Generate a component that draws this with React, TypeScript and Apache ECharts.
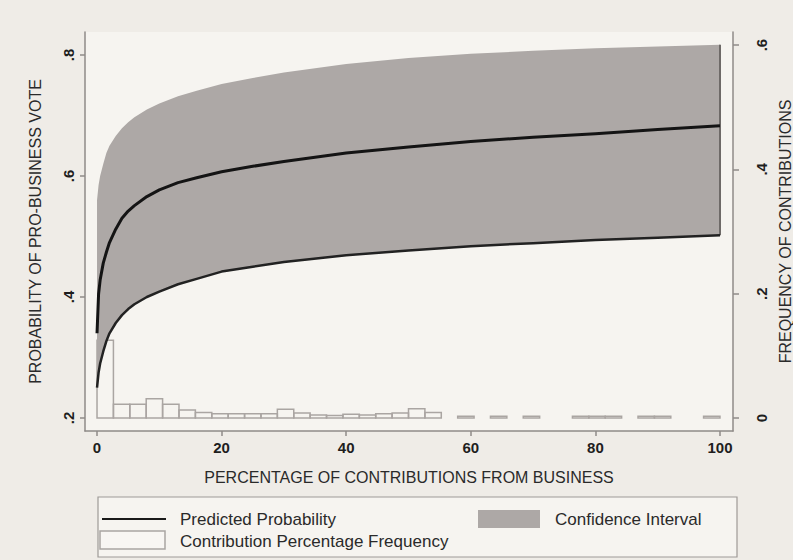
import React, { useEffect, useRef } from "react";
import * as echarts from "echarts";

// Curve x positions (percentage of contributions from business)
const xs = [0, 0.25, 0.5, 1, 1.5, 2, 3, 4, 5, 6, 8, 10, 13, 16, 20, 25, 30, 40, 50, 60, 70, 80, 90, 100];
// Predicted probability of a pro-business vote
const predicted = [0.34, 0.405, 0.428, 0.456, 0.474, 0.49, 0.512, 0.53, 0.542, 0.551, 0.566, 0.577, 0.589, 0.597, 0.607, 0.616, 0.624, 0.638, 0.648, 0.657, 0.664, 0.67, 0.677, 0.683];
// Confidence interval bounds
const lowerCI = [0.25, 0.275, 0.29, 0.31, 0.327, 0.34, 0.357, 0.37, 0.38, 0.388, 0.4, 0.409, 0.421, 0.43, 0.442, 0.45, 0.458, 0.469, 0.477, 0.484, 0.489, 0.494, 0.498, 0.502];
const upperCI = [0.56, 0.585, 0.6, 0.62, 0.638, 0.65, 0.666, 0.679, 0.689, 0.697, 0.71, 0.72, 0.732, 0.741, 0.752, 0.762, 0.771, 0.785, 0.795, 0.802, 0.807, 0.811, 0.814, 0.817];

// Histogram of contribution percentages (38 equal-width bins over 0-100)
const histBinWidth = 100 / 38;
const histFreq = [0.125, 0.022, 0.022, 0.031, 0.022, 0.013, 0.009, 0.007, 0.007, 0.007, 0.007, 0.014, 0.008, 0.005, 0.004, 0.006, 0.005, 0.007, 0.008, 0.015, 0.009, 0, 0.003, 0, 0.003, 0, 0.003, 0, 0, 0.003, 0.003, 0.003, 0, 0.003, 0.003, 0, 0, 0.003];

// Tick labels
const xTicks = [0, 20, 40, 60, 80, 100];
const yLeftTicks = [0.2, 0.4, 0.6, 0.8];
const yLeftLabels = [".2", ".4", ".6", ".8"];
const yRightTicks = [0, 0.2, 0.4, 0.6];
const yRightLabels = ["0", ".2", ".4", ".6"];

const xTitle = "PERCENTAGE OF CONTRIBUTIONS FROM BUSINESS";
const yLeftTitle = "PROBABILITY OF PRO-BUSINESS VOTE";
const yRightTitle = "FREQUENCY OF CONTRIBUTIONS";
const legendNames = ["Predicted Probability", "Confidence Interval", "Contribution Percentage Frequency"];

const BAND = "#ada8a6";
const AXIS = "#8f8b88";
const FONT = "'Liberation Sans', Arial, sans-serif";

export default function App() {
  const ref = useRef<HTMLDivElement>(null);

  useEffect(() => {
    if (!ref.current) return;
    const chart = echarts.init(ref.current, undefined, { renderer: "svg" });

    const histData = histFreq.map((f, i) => [i * histBinWidth, (i + 1) * histBinWidth, f]);
    const bandData = xs.map((x, i) => [x, lowerCI[i], upperCI[i]]);

    const option: any = {
      animation: false,
      backgroundColor: "#efece7",
      textStyle: { fontFamily: FONT },
      grid: {
        left: 85,
        right: 60,
        top: 32,
        bottom: 129,
        containLabel: false,
        outerBoundsMode: "none",
        show: true,
        backgroundColor: "#f6f4f0",
        borderWidth: 0,
      },
      xAxis: {
        type: "value",
        min: -1.93,
        max: 102.09,
        name: xTitle,
        nameLocation: "middle",
        nameGap: 38,
        nameTextStyle: { fontSize: 16, color: "#2a2a2a", fontFamily: FONT },
        axisLine: { show: true, onZero: false, lineStyle: { color: AXIS, width: 1.5 } },
        axisTick: { show: true, length: 5, customValues: xTicks, lineStyle: { color: AXIS, width: 1.5 } },
        axisLabel: {
          customValues: xTicks,
          margin: 9,
          fontSize: 15,
          fontWeight: "bold",
          color: "#1e1e1e",
          fontFamily: FONT,
        },
        splitLine: { show: false },
      },
      yAxis: [
        {
          type: "value",
          position: "left",
          min: 0.1785,
          max: 0.838,
          name: yLeftTitle,
          nameLocation: "middle",
          nameRotate: 90,
          nameGap: 42,
          nameTextStyle: { fontSize: 16, color: "#2a2a2a", fontFamily: FONT },
          axisLine: { show: true, onZero: false, lineStyle: { color: AXIS, width: 1.5 } },
          axisTick: { show: true, length: 5, customValues: yLeftTicks, lineStyle: { color: AXIS, width: 1.5 } },
          axisLabel: {
            customValues: yLeftTicks,
            formatter: (v: number) => yLeftLabels[yLeftTicks.findIndex((t) => Math.abs(t - v) < 1e-6)] ?? "",
            rotate: 90,
            margin: 9,
            fontSize: 15,
            fontWeight: "bold",
            color: "#1e1e1e",
            fontFamily: FONT,
          },
          splitLine: { show: false },
        },
        {
          type: "value",
          position: "right",
          min: -0.0209,
          max: 0.621,
          name: yRightTitle,
          nameLocation: "middle",
          nameRotate: 90,
          nameGap: 44,
          nameTextStyle: { fontSize: 16, color: "#2a2a2a", fontFamily: FONT },
          axisLine: { show: true, onZero: false, lineStyle: { color: AXIS, width: 1.5 } },
          axisTick: { show: true, length: 6, customValues: yRightTicks, lineStyle: { color: AXIS, width: 1.5 } },
          axisLabel: {
            customValues: yRightTicks,
            formatter: (v: number) => yRightLabels[yRightTicks.findIndex((t) => Math.abs(t - v) < 1e-6)] ?? "",
            rotate: 90,
            margin: 21,
            fontSize: 15,
            fontWeight: "bold",
            color: "#1e1e1e",
            fontFamily: FONT,
          },
          splitLine: { show: false },
        },
      ],
      series: [
        {
          name: legendNames[2],
          type: "custom",
          xAxisIndex: 0,
          yAxisIndex: 1,
          z: 1,
          data: histData,
          encode: { x: [0, 1], y: 2 },
          renderItem: (params: any, api: any) => {
            const s = api.value(0);
            const e = api.value(1);
            const f = api.value(2);
            if (!f) return null;
            const p0 = api.coord([s, 0]);
            const p1 = api.coord([e, f]);
            return {
              type: "rect",
              shape: { x: p0[0], y: p1[1], width: p1[0] - p0[0], height: p0[1] - p1[1] },
              style: { fill: "none", stroke: "#aaa5a2", lineWidth: 1.5 },
            };
          },
        },
        {
          name: legendNames[1],
          type: "custom",
          xAxisIndex: 0,
          yAxisIndex: 0,
          z: 2,
          data: bandData,
          encode: { x: 0, y: [1, 2] },
          renderItem: (params: any, api: any) => {
            if (params.dataIndex !== 0) return null;
            const top = xs.map((x, i) => api.coord([x, upperCI[i]]));
            const bottom = xs.map((x, i) => api.coord([x, lowerCI[i]])).reverse();
            return {
              type: "polygon",
              shape: { points: top.concat(bottom) },
              style: { fill: BAND, stroke: "none" },
            };
          },
        },
        {
          name: "CI edge",
          type: "line",
          yAxisIndex: 0,
          z: 3,
          showSymbol: false,
          data: [
            [xs[xs.length - 1], lowerCI[lowerCI.length - 1]],
            [xs[xs.length - 1], upperCI[upperCI.length - 1]],
          ],
          lineStyle: { color: "#6e6a68", width: 2 },
        },
        {
          name: "Lower bound",
          type: "line",
          yAxisIndex: 0,
          z: 3,
          showSymbol: false,
          smooth: false,
          data: xs.map((x, i) => [x, lowerCI[i]]),
          lineStyle: { color: "#222", width: 2.5, join: "round" },
        },
        {
          name: legendNames[0],
          type: "line",
          yAxisIndex: 0,
          z: 4,
          showSymbol: false,
          smooth: false,
          data: xs.map((x, i) => [x, predicted[i]]),
          lineStyle: { color: "#141414", width: 3, join: "round" },
        },
      ],
      graphic: [
        {
          type: "rect",
          shape: { x: 98, y: 497, width: 639, height: 60 },
          style: { fill: "#f6f4f0", stroke: "#9e9a97", lineWidth: 1.2 },
        },
        {
          type: "line",
          shape: { x1: 102, y1: 519, x2: 166, y2: 519 },
          style: { stroke: "#1a1a1a", lineWidth: 2 },
        },
        {
          type: "text",
          x: 180,
          y: 519,
          style: { text: legendNames[0], fontSize: 17, fill: "#2a2a2a", fontFamily: FONT, verticalAlign: "middle" },
        },
        {
          type: "rect",
          shape: { x: 478, y: 510, width: 62, height: 18 },
          style: { fill: BAND },
        },
        {
          type: "text",
          x: 555,
          y: 519,
          style: { text: legendNames[1], fontSize: 17, fill: "#2a2a2a", fontFamily: FONT, verticalAlign: "middle" },
        },
        {
          type: "rect",
          shape: { x: 100, y: 531, width: 65, height: 18 },
          style: { fill: "#f8f6f3", stroke: "#a9a5a2", lineWidth: 1.5 },
        },
        {
          type: "text",
          x: 180,
          y: 541,
          style: { text: legendNames[2], fontSize: 17, fill: "#2a2a2a", fontFamily: FONT, verticalAlign: "middle" },
        },
      ],
    };

    chart.setOption(option);
    return () => chart.dispose();
  }, []);

  return (
    <div
      ref={ref}
      style={{ position: "fixed", left: 0, top: 0, width: 793, height: 560 }}
    />
  );
}
